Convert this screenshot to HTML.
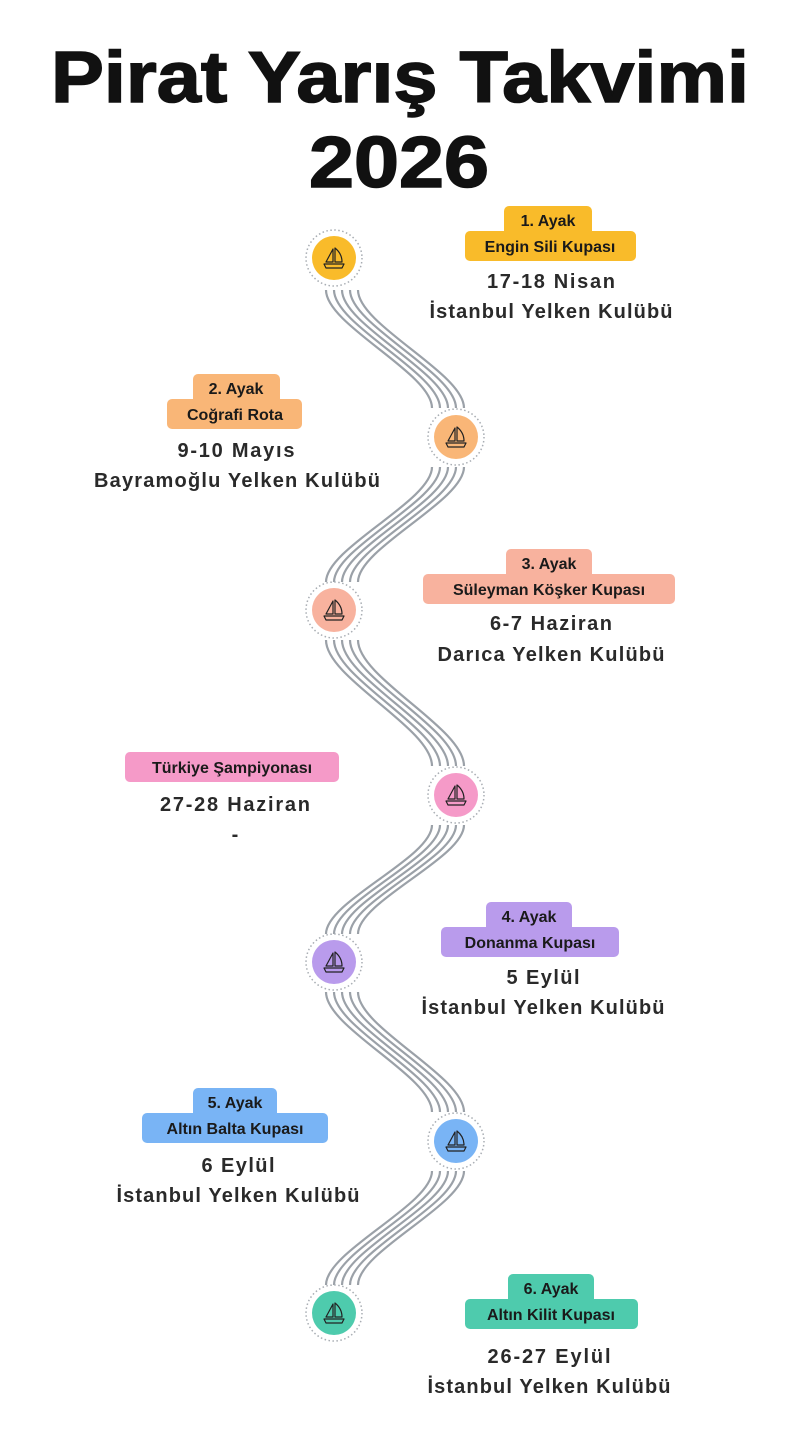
<!DOCTYPE html>
<html><head><meta charset="utf-8"><style>
html,body{margin:0;padding:0;background:#fff;}
svg{display:block;}
.t{font-family:"Liberation Sans",sans-serif;font-weight:bold;fill:#111;text-anchor:middle;stroke:#111;stroke-width:1.5;}
.d{font-family:"Liberation Sans",sans-serif;font-weight:bold;fill:#2a2a2a;text-anchor:middle;font-size:20px;}
.l{font-family:"Liberation Sans",sans-serif;font-weight:bold;fill:#1a1a1a;text-anchor:middle;font-size:16px;}
.w path{fill:none;stroke:#9ba1a8;stroke-width:2.2;}
.ring{fill:#fff;stroke:#a8adb3;stroke-width:1.5;stroke-dasharray:1.5 2.5;}
</style></head><body>
<svg width="800" height="1452" viewBox="0 0 800 1452">
<defs>
<g id="boat">
<path d="M-1,-9 L-1,4 L-8,4 Z M1,-10 C6,-6 8,-1 8,4 L1,4 Z" fill="none" stroke="#222" stroke-width="1.2" stroke-linejoin="round"/>
<path d="M-10,6 L10,6 L8,10 L-8,10 Z" fill="none" stroke="#222" stroke-width="1.2" stroke-linejoin="round"/>
</g>
</defs>
<text class="t" x="400" y="102" font-size="72" textLength="698" lengthAdjust="spacingAndGlyphs">Pirat Yarış Takvimi</text>
<text class="t" x="399" y="187" font-size="72" textLength="180" lengthAdjust="spacingAndGlyphs">2026</text>

<g class="w">
<path d="M326,290 C326,325 432,373 432,408"/><path d="M334,290 C334,325 440,373 440,408"/><path d="M342,290 C342,325 448,373 448,408"/><path d="M350,290 C350,325 456,373 456,408"/><path d="M358,290 C358,325 464,373 464,408"/>
<path d="M464,467 C464,501 358,548 358,582"/><path d="M456,467 C456,501 350,548 350,582"/><path d="M448,467 C448,501 342,548 342,582"/><path d="M440,467 C440,501 334,548 334,582"/><path d="M432,467 C432,501 326,548 326,582"/>
<path d="M326,640 C326,678 432,728 432,766"/><path d="M334,640 C334,678 440,728 440,766"/><path d="M342,640 C342,678 448,728 448,766"/><path d="M350,640 C350,678 456,728 456,766"/><path d="M358,640 C358,678 464,728 464,766"/>
<path d="M464,825 C464,858 358,901 358,934"/><path d="M456,825 C456,858 350,901 350,934"/><path d="M448,825 C448,858 342,901 342,934"/><path d="M440,825 C440,858 334,901 334,934"/><path d="M432,825 C432,858 326,901 326,934"/>
<path d="M326,992 C326,1028 432,1076 432,1112"/><path d="M334,992 C334,1028 440,1076 440,1112"/><path d="M342,992 C342,1028 448,1076 448,1112"/><path d="M350,992 C350,1028 456,1076 456,1112"/><path d="M358,992 C358,1028 464,1076 464,1112"/>
<path d="M464,1171 C464,1205 358,1251 358,1285"/><path d="M456,1171 C456,1205 350,1251 350,1285"/><path d="M448,1171 C448,1205 342,1251 342,1285"/><path d="M440,1171 C440,1205 334,1251 334,1285"/><path d="M432,1171 C432,1205 326,1251 326,1285"/>
</g>

<g transform="translate(334,258)"><circle r="28" class="ring"/><circle r="22" fill="#f9bb2a"/><use href="#boat"/></g>
<g transform="translate(456,437)"><circle r="28" class="ring"/><circle r="22" fill="#f9b677"/><use href="#boat"/></g>
<g transform="translate(334,610)"><circle r="28" class="ring"/><circle r="22" fill="#f8b29e"/><use href="#boat"/></g>
<g transform="translate(456,795)"><circle r="28" class="ring"/><circle r="22" fill="#f59ac8"/><use href="#boat"/></g>
<g transform="translate(334,962)"><circle r="28" class="ring"/><circle r="22" fill="#b99bec"/><use href="#boat"/></g>
<g transform="translate(456,1141)"><circle r="28" class="ring"/><circle r="22" fill="#79b4f5"/><use href="#boat"/></g>
<g transform="translate(334,1313)"><circle r="28" class="ring"/><circle r="22" fill="#4ecbad"/><use href="#boat"/></g>

<!-- 1 -->
<rect x="504" y="206" width="88" height="30" rx="5" fill="#f9bb2a"/>
<rect x="465" y="231" width="171" height="30" rx="5" fill="#f9bb2a"/>
<text class="l" x="548" y="226">1. Ayak</text>
<text class="l" x="550" y="252">Engin Sili Kupası</text>
<text class="d" x="551" y="288" textLength="128">17-18 Nisan</text>
<text class="d" x="551" y="318" textLength="243">İstanbul Yelken Kulübü</text>
<!-- 2 -->
<rect x="193" y="374" width="87" height="30" rx="5" fill="#f9b677"/>
<rect x="167" y="399" width="135" height="30" rx="5" fill="#f9b677"/>
<text class="l" x="236" y="394">2. Ayak</text>
<text class="l" x="235" y="420">Coğrafi Rota</text>
<text class="d" x="236" y="457" textLength="117">9-10 Mayıs</text>
<text class="d" x="237" y="487" textLength="286">Bayramoğlu Yelken Kulübü</text>
<!-- 3 -->
<rect x="506" y="549" width="86" height="30" rx="5" fill="#f8b29e"/>
<rect x="423" y="574" width="252" height="30" rx="5" fill="#f8b29e"/>
<text class="l" x="549" y="569">3. Ayak</text>
<text class="l" x="549" y="595">Süleyman Köşker Kupası</text>
<text class="d" x="551" y="630" textLength="122">6-7 Haziran</text>
<text class="d" x="551" y="661" textLength="227">Darıca Yelken Kulübü</text>
<!-- TR -->
<rect x="125" y="752" width="214" height="30" rx="5" fill="#f59ac8"/>
<text class="l" x="232" y="773">Türkiye Şampiyonası</text>
<text class="d" x="235" y="811" textLength="150">27-28 Haziran</text>
<text class="d" x="235" y="841">-</text>
<!-- 4 -->
<rect x="486" y="902" width="86" height="30" rx="5" fill="#b99bec"/>
<rect x="441" y="927" width="178" height="30" rx="5" fill="#b99bec"/>
<text class="l" x="529" y="922">4. Ayak</text>
<text class="l" x="530" y="948">Donanma Kupası</text>
<text class="d" x="543" y="984" textLength="73">5 Eylül</text>
<text class="d" x="543" y="1014" textLength="243">İstanbul Yelken Kulübü</text>
<!-- 5 -->
<rect x="193" y="1088" width="84" height="30" rx="5" fill="#79b4f5"/>
<rect x="142" y="1113" width="186" height="30" rx="5" fill="#79b4f5"/>
<text class="l" x="235" y="1108">5. Ayak</text>
<text class="l" x="235" y="1134">Altın Balta Kupası</text>
<text class="d" x="238" y="1172" textLength="73">6 Eylül</text>
<text class="d" x="238" y="1202" textLength="243">İstanbul Yelken Kulübü</text>
<!-- 6 -->
<rect x="508" y="1274" width="86" height="30" rx="5" fill="#4ecbad"/>
<rect x="465" y="1299" width="173" height="30" rx="5" fill="#4ecbad"/>
<text class="l" x="551" y="1294">6. Ayak</text>
<text class="l" x="551" y="1320">Altın Kilit Kupası</text>
<text class="d" x="549" y="1363" textLength="123">26-27 Eylül</text>
<text class="d" x="549" y="1393" textLength="243">İstanbul Yelken Kulübü</text>
</svg>
</body></html>
